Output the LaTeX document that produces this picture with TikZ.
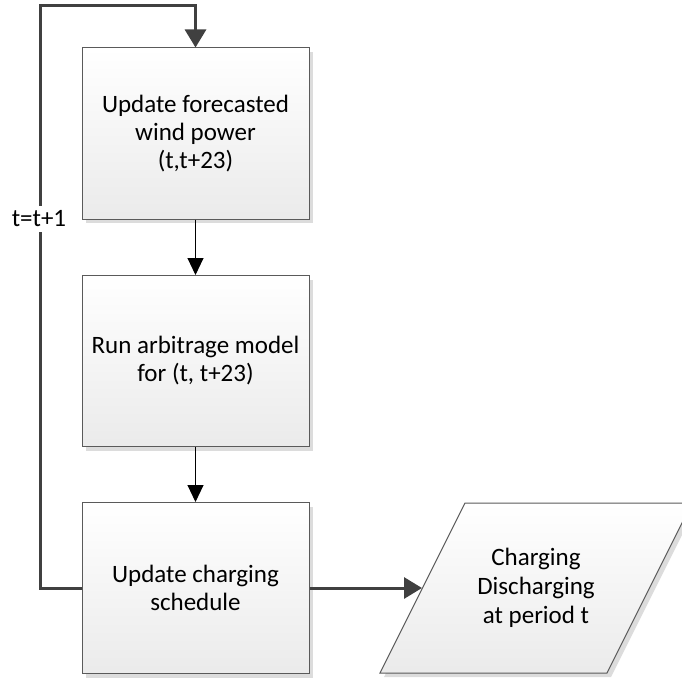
\documentclass[tikz,border=0pt]{standalone}
\usepackage{fontspec}
\setmainfont{Carlito}
\usetikzlibrary{arrows.meta,shadows}
\definecolor{edgegray}{HTML}{5A5A5A}
\definecolor{loopgray}{HTML}{404040}
\definecolor{shadowgray}{HTML}{DCDCDC}
\tikzset{
  stepbox/.style={draw=edgegray, line width=1pt, minimum width=227pt, minimum height=171pt,
    inner sep=0pt, align=center, top color=white, bottom color=black!8,
    drop shadow={shadow xshift=4pt, shadow yshift=-4pt, fill=shadowgray, opacity=1},
    font=\fontsize{25}{28}\selectfont},
  thinarrow/.style={draw=black, line width=1pt, -{Triangle[length=17pt,width=16pt]}},
  thickarrow/.style={draw=loopgray, line width=3pt, -{Triangle[length=18pt,width=21pt]}},
  looplabel/.style={fill=white, inner xsep=2pt, inner ysep=5pt, font=\fontsize{25}{28}\selectfont},
}
\begin{document}
\begin{tikzpicture}[x=1pt, y=-1pt]
  \useasboundingbox (0,0) rectangle (682,679);

  % process boxes
  \node[stepbox] (b1) at (195.5,133.5) {Update forecasted\\wind power\\(t,t+23)};
  \node[stepbox] (b2) at (195.5,361) {Run arbitrage model\\for (t, t+23)};
  \node[stepbox] (b3) at (195.5,588) {Update charging\\schedule};

  % output parallelogram
  \fill[shadowgray] (384,677) -- (469,507) -- (696,507) -- (611,677) -- cycle;
  \shade[top color=white, bottom color=black!8] (380,673) -- (465,503) -- (692,503) -- (607,673) -- cycle;
  \draw[edgegray, line width=1pt] (380,673) -- (465,503) -- (692,503) -- (607,673) -- cycle;
  \node[align=center, font=\fontsize{25}{29}\selectfont] (out) at (536,588)
    {Charging\\Discharging\\at period t};
  \coordinate (outin) at (422,588);

  % flow connectors
  \draw[thinarrow] (b1.south) -- (b2.north);
  \draw[thinarrow] (b2.south) -- (b3.north);
  \draw[thickarrow] (b3.east) -- (outin);

  % feedback loop
  \coordinate (lb) at (40,588);
  \coordinate (lt) at (40,6);
  \draw[thickarrow] (b3.west) -- (lb) -- (lt) -| (b1.north);
  \node[looplabel] (tl) at (39,219) {t=t+1};
\end{tikzpicture}
\end{document}
